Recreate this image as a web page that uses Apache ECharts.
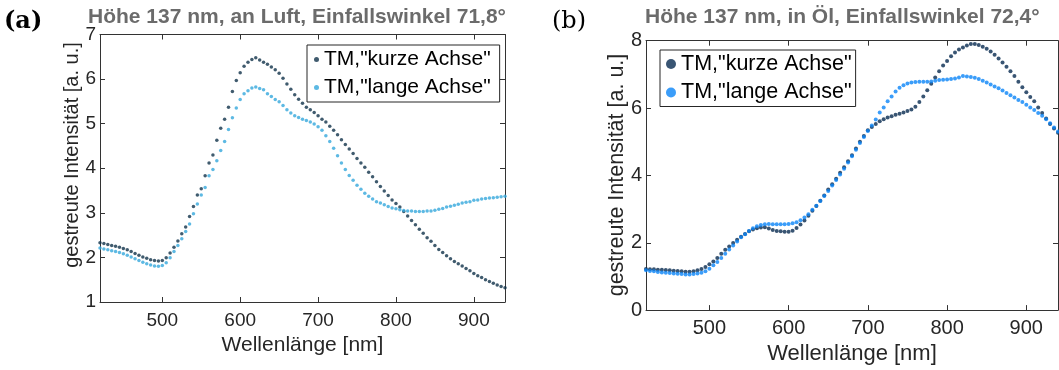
<!DOCTYPE html>
<html>
<head>
<meta charset="utf-8">
<script src="https://cdn.jsdelivr.net/npm/echarts@6.0.0/dist/echarts.min.js"></script>
<style>
  html, body { margin: 0; padding: 0; background: #ffffff; }
  #chart { width: 1059px; height: 370px; }
</style>
</head>
<body>
<div id="chart"></div>
<script>
// ---------------- data ----------------
const wavelengths = [
  420,425,430,435,440,445,450,455,460,465,
  470,475,480,485,490,495,500,505,510,515,
  520,525,530,535,540,545,550,555,560,565,
  570,575,580,585,590,595,600,605,610,615,
  620,625,630,635,640,645,650,655,660,665,
  670,675,680,685,690,695,700,705,710,715,
  720,725,730,735,740,745,750,755,760,765,
  770,775,780,785,790,795,800,805,810,815,
  820,825,830,835,840,845,850,855,860,865,
  870,875,880,885,890,895,900,905,910,915,
  920,925,930,935,940
];

// (a) an Luft
const luftKurze = [
  2.33,2.31,2.29,2.27,2.25,2.23,2.20,2.17,2.13,2.09,
  2.05,2.01,1.98,1.95,1.93,1.92,1.93,1.99,2.10,2.23,
  2.37,2.53,2.68,2.92,3.14,3.40,3.54,3.83,4.12,4.30,
  4.63,4.90,5.10,5.37,5.72,5.97,6.14,6.29,6.38,6.44,
  6.48,6.43,6.38,6.33,6.27,6.21,6.13,6.02,5.89,5.77,
  5.65,5.55,5.46,5.37,5.31,5.25,5.18,5.10,5.04,4.94,
  4.85,4.75,4.64,4.53,4.43,4.33,4.22,4.12,4.02,3.91,
  3.81,3.70,3.59,3.49,3.39,3.29,3.21,3.13,3.03,2.93,
  2.83,2.73,2.63,2.54,2.44,2.36,2.27,2.18,2.11,2.04,
  1.97,1.91,1.86,1.81,1.75,1.70,1.64,1.59,1.55,1.50,
  1.46,1.42,1.38,1.35,1.32
];
const luftLange = [
  2.21,2.19,2.17,2.15,2.13,2.11,2.08,2.05,2.01,1.97,
  1.93,1.89,1.86,1.83,1.81,1.80,1.82,1.88,1.99,2.13,
  2.27,2.42,2.58,2.75,2.98,3.20,3.40,3.57,3.83,3.97,
  4.17,4.40,4.60,4.87,5.13,5.35,5.54,5.67,5.74,5.80,
  5.82,5.79,5.76,5.67,5.61,5.54,5.49,5.41,5.31,5.24,
  5.18,5.14,5.10,5.07,5.04,4.99,4.93,4.85,4.73,4.60,
  4.45,4.28,4.12,3.97,3.84,3.73,3.62,3.53,3.44,3.37,
  3.31,3.25,3.22,3.18,3.14,3.11,3.09,3.07,3.05,3.04,
  3.04,3.03,3.03,3.03,3.04,3.04,3.06,3.08,3.10,3.13,
  3.15,3.17,3.19,3.22,3.24,3.25,3.28,3.29,3.31,3.32,
  3.33,3.34,3.35,3.36,3.37
];

// (b) in Öl
const oelKurze = [
  1.22,1.21,1.21,1.20,1.20,1.19,1.18,1.17,1.16,1.15,
  1.14,1.14,1.15,1.18,1.22,1.28,1.36,1.44,1.55,1.67,
  1.79,1.89,1.99,2.09,2.18,2.26,2.34,2.39,2.43,2.45,
  2.46,2.42,2.38,2.35,2.34,2.33,2.33,2.36,2.44,2.54,
  2.66,2.80,2.95,3.09,3.25,3.40,3.58,3.74,3.90,4.08,
  4.24,4.42,4.60,4.80,5.00,5.17,5.34,5.44,5.53,5.61,
  5.67,5.72,5.76,5.80,5.83,5.87,5.91,5.96,6.04,6.18,
  6.34,6.53,6.72,6.91,7.09,7.26,7.40,7.54,7.65,7.74,
  7.80,7.86,7.90,7.90,7.87,7.82,7.76,7.68,7.58,7.47,
  7.35,7.23,7.09,6.95,6.78,6.62,6.47,6.33,6.20,6.02,
  5.85,5.69,5.53,5.39,5.27
];
const oelLange = [
  1.18,1.16,1.15,1.13,1.12,1.11,1.10,1.09,1.08,1.07,
  1.06,1.06,1.07,1.09,1.11,1.15,1.23,1.33,1.43,1.55,
  1.67,1.80,1.92,2.04,2.16,2.25,2.35,2.43,2.49,2.53,
  2.55,2.56,2.55,2.55,2.55,2.55,2.56,2.58,2.61,2.67,
  2.75,2.85,2.98,3.10,3.24,3.39,3.54,3.70,3.86,4.03,
  4.20,4.38,4.57,4.76,4.96,5.14,5.32,5.48,5.66,5.87,
  6.02,6.20,6.34,6.49,6.60,6.68,6.73,6.76,6.77,6.78,
  6.78,6.78,6.79,6.81,6.83,6.84,6.85,6.86,6.88,6.91,
  6.95,6.94,6.92,6.90,6.86,6.81,6.76,6.70,6.64,6.59,
  6.52,6.45,6.38,6.31,6.24,6.18,6.10,6.02,5.94,5.85,
  5.77,5.67,5.55,5.42,5.30
];

const xTicks = [500, 600, 700, 800, 900];
const yTicksA = [1, 2, 3, 4, 5, 6, 7];
const yTicksB = [0, 2, 4, 6, 8];

const nameKurze = 'TM,"kurze Achse"';
const nameLange = 'TM,"lange Achse"';
const titleA = 'Höhe 137 nm, an Luft, Einfallswinkel 71,8°';
const titleB = 'Höhe 137 nm, in Öl, Einfallswinkel 72,4°';
const xName = 'Wellenlänge [nm]';
const yName = 'gestreute Intensität [a. u.]';

// ---------------- styling ----------------
const FONT = '"Liberation Sans", Arial, Helvetica, sans-serif';
const AX = '#333333';
const TXT = '#262626';
const colA = { kurze: '#10324a', lange: '#35a7dc' };
const colB = { kurze: '#082a50', lange: '#0a84f7' };

function pairs(xs, ys) { return xs.map((x, i) => [x, ys[i]]); }

function xAxisPair(grid, fs, margin, gap, nfs) {
  const base = {
    type: 'value', gridIndex: grid, min: 420, max: 940,
    splitLine: { show: false },
    axisLine: { show: true, onZero: false, lineStyle: { color: AX, width: 1 } },
    axisTick: { show: true, inside: true, length: 5, customValues: xTicks, lineStyle: { color: AX, width: 1 } }
  };
  return [
    Object.assign({}, base, {
      position: 'bottom',
      axisLabel: { show: true, customValues: xTicks, margin: margin, fontSize: fs, color: TXT, fontFamily: FONT },
      name: xName, nameLocation: 'middle', nameGap: gap,
      nameTextStyle: { fontSize: nfs, color: TXT, fontFamily: FONT }
    }),
    Object.assign({}, base, { position: 'top', axisLabel: { show: false } })
  ];
}
function yAxisPair(grid, min, max, interval, ticks, fs) {
  const base = {
    type: 'value', gridIndex: grid, min: min, max: max, interval: interval,
    splitLine: { show: false },
    axisLine: { show: true, onZero: false, lineStyle: { color: AX, width: 1 } },
    axisTick: { show: true, inside: true, length: 5, customValues: ticks, lineStyle: { color: AX, width: 1 } }
  };
  return [
    Object.assign({}, base, {
      position: 'left',
      axisLabel: { show: true, customValues: ticks, margin: 4, fontSize: fs, color: TXT, fontFamily: FONT }
    }),
    Object.assign({}, base, { position: 'right', axisLabel: { show: false } })
  ];
}

const chart = echarts.init(document.getElementById('chart'), null, { renderer: 'canvas' });

const option = {
  animation: false,
  backgroundColor: '#ffffff',
  title: [
    { text: '(a)', left: 4, top: 10, padding: 0,
      textStyle: { fontFamily: '"DejaVu Serif", serif', fontWeight: 'bold', fontSize: 24, color: '#000' } },
    { text: titleA, left: 88, top: 7, padding: 0,
      textStyle: { fontFamily: FONT, fontWeight: 'bold', fontSize: 21, color: '#6b6b6b' } },
    { text: '(b)', left: 552, top: 10, padding: 0,
      textStyle: { fontFamily: '"DejaVu Serif", serif', fontWeight: 'normal', fontSize: 24, color: '#000' } },
    { text: titleB, left: 645, top: 7, padding: 0,
      textStyle: { fontFamily: FONT, fontWeight: 'bold', fontSize: 21, color: '#6b6b6b' } }
  ],
  grid: [
    { left: 100, top: 34.5, width: 405, height: 267.5, containLabel: false },
    { left: 646, top: 40.7, width: 412, height: 271, containLabel: false }
  ],
  xAxis: [].concat(xAxisPair(0, 19, 9, 33, 21), xAxisPair(1, 20, 8, 32, 22)),
  yAxis: [].concat(yAxisPair(0, 1, 7, 1, yTicksA, 19), yAxisPair(1, 0, 8, 2, yTicksB, 20)),
  legend: [
    {
      left: 307, top: 45, orient: 'vertical', selectedMode: false,
      padding: [2, 9, 2, 7], itemGap: 3, itemWidth: 5, itemHeight: 5, icon: 'circle',
      borderColor: '#262626', borderWidth: 1, backgroundColor: '#ffffff',
      textStyle: { fontSize: 21, lineHeight: 25, color: '#000', fontFamily: FONT },
      data: [
        { name: nameKurze, itemStyle: { color: colA.kurze } },
        { name: nameLange, itemStyle: { color: colA.lange } }
      ]
    },
    {
      left: 660, top: 50, orient: 'vertical', selectedMode: false,
      padding: [1.5, 4, 1.5, 6], itemGap: 3.5, itemWidth: 10, itemHeight: 10, icon: 'circle',
      borderColor: '#262626', borderWidth: 1, backgroundColor: '#ffffff',
      textStyle: { fontSize: 21.5, lineHeight: 25, color: '#000', fontFamily: FONT },
      data: [
        { name: nameKurze, itemStyle: { color: colB.kurze } },
        { name: nameLange, itemStyle: { color: colB.lange } }
      ]
    }
  ],
  graphic: [
    { type: 'text', x: 72, y: 155, rotation: Math.PI / 2,
      style: { text: yName, fontSize: 20, fontFamily: FONT, fill: TXT, textAlign: 'center', textVerticalAlign: 'middle' } },
    { type: 'text', x: 617, y: 175, rotation: Math.PI / 2,
      style: { text: yName, fontSize: 21.5, fontFamily: FONT, fill: TXT, textAlign: 'center', textVerticalAlign: 'middle' } }
  ],
  series: [
    { name: nameKurze, type: 'scatter', xAxisIndex: 0, yAxisIndex: 0, symbol: 'circle', symbolSize: 3.5,
      itemStyle: { color: colA.kurze }, emphasis: { disabled: true }, data: pairs(wavelengths, luftKurze) },
    { name: nameLange, type: 'scatter', xAxisIndex: 0, yAxisIndex: 0, symbol: 'circle', symbolSize: 3.5,
      itemStyle: { color: colA.lange }, emphasis: { disabled: true }, data: pairs(wavelengths, luftLange) },
    { name: nameKurze, type: 'scatter', xAxisIndex: 2, yAxisIndex: 2, symbol: 'circle', symbolSize: 4,
      itemStyle: { color: colB.kurze }, emphasis: { disabled: true }, data: pairs(wavelengths, oelKurze) },
    { name: nameLange, type: 'scatter', xAxisIndex: 2, yAxisIndex: 2, symbol: 'circle', symbolSize: 4,
      itemStyle: { color: colB.lange }, emphasis: { disabled: true }, data: pairs(wavelengths, oelLange) }
  ]
};
chart.setOption(option);
</script>
</body>
</html>
